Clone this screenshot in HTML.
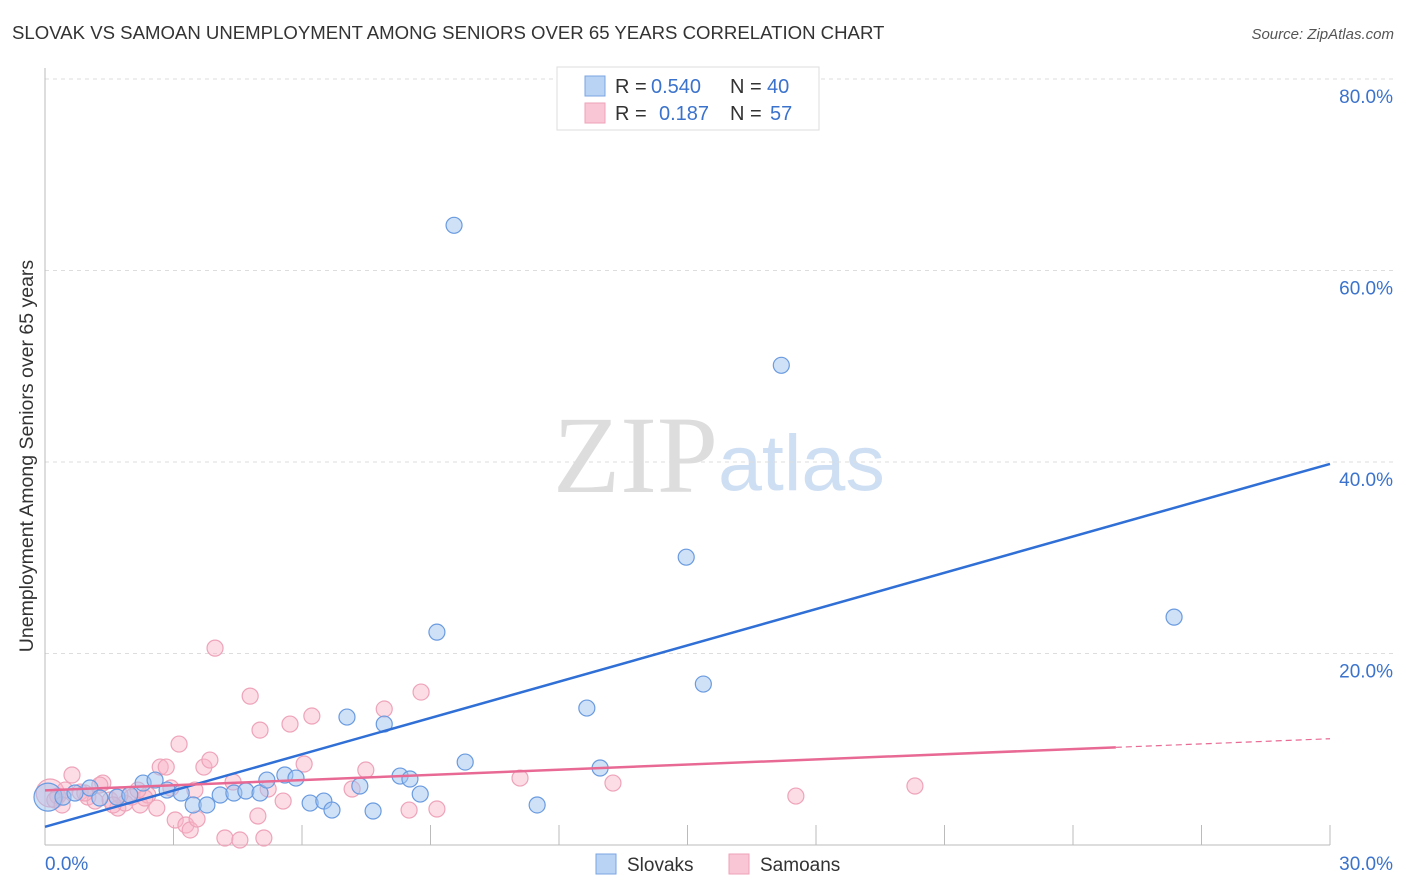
<!DOCTYPE html>
<html><head><meta charset="utf-8"><style>
body{margin:0;background:#fff;font-family:"Liberation Sans",sans-serif}
svg{display:block}
</style></head><body>
<svg id="chart" width="1406" height="892" xmlns="http://www.w3.org/2000/svg" font-family="Liberation Sans, sans-serif">
<text x="12" y="39" font-size="18.6" fill="#333">SLOVAK VS SAMOAN UNEMPLOYMENT AMONG SENIORS OVER 65 YEARS CORRELATION CHART</text>
<text x="1394" y="39" font-size="15" fill="#555" text-anchor="end" font-style="italic">Source: ZipAtlas.com</text>
<g>
<text x="553" y="492" font-size="110" fill="#ddd" font-family="Liberation Serif, serif">ZIP</text>
<text x="718" y="490" font-size="79" fill="#cfdff3">atlas</text>
</g>
<g id="grid"></g>
<g id="axes"></g>
<g id="pts"></g>
<g id="lines"></g>
<text transform="translate(33,456) rotate(-90)" font-size="19.5" fill="#333" text-anchor="middle">Unemployment Among Seniors over 65 years</text>
<g>
<rect x="557" y="67" width="262" height="63" fill="#fff" stroke="#ddd"/>
<rect x="585" y="76" width="20" height="20" fill="#b9d3f5" stroke="#7aa6e0"/>
<rect x="585" y="103" width="20" height="20" fill="#f9c6d5" stroke="#eea3b9"/>
<text x="615" y="93" font-size="20" fill="#333">R =</text>
<text x="651" y="93" font-size="20" fill="#3b73cc">0.540</text>
<text x="730" y="93" font-size="20" fill="#333">N =</text>
<text x="767" y="93" font-size="20" fill="#3b73cc">40</text>
<text x="615" y="120" font-size="20" fill="#333">R =</text>
<text x="659" y="120" font-size="20" fill="#3b73cc">0.187</text>
<text x="730" y="120" font-size="20" fill="#333">N =</text>
<text x="770" y="120" font-size="20" fill="#3b73cc">57</text>
</g>
<g>
<rect x="596" y="854" width="20" height="20" fill="#b9d3f5" stroke="#7aa6e0"/>
<text x="627" y="871" font-size="19" fill="#333">Slovaks</text>
<rect x="729" y="854" width="20" height="20" fill="#f9c6d5" stroke="#eea3b9"/>
<text x="760" y="871" font-size="19" fill="#333">Samoans</text>
</g>
</svg>
<script>
const yTicks=[20,40,60,80];
const yTickLabels=["20.0%","40.0%","60.0%","80.0%"];
const xTicks=[3,6,9,12,15,18,21,24,27,30];
const blueX=[0.07,0.42,1.05,1.68,2.29,2.57,2.85,3.18,3.46,3.78,4.09,4.41,4.69,5.02,5.18,5.60,5.86,6.19,6.51,6.70,7.05,7.35,7.66,7.92,8.29,8.52,8.76,9.15,9.55,9.81,11.49,12.65,12.96,14.97,15.37,17.19,26.36,1.98,1.28,0.70];
const blueY=[5.0,5.0,5.95,5.0,6.47,6.78,5.74,5.43,4.18,4.18,5.22,5.43,5.64,5.43,6.78,7.31,6.99,4.38,4.59,3.65,13.36,6.16,3.55,12.63,7.20,6.89,5.32,22.23,64.72,8.66,4.18,14.30,8.04,30.06,16.81,50.10,23.80,5.22,4.91,5.43];
const pinkX=[0.12,0.30,0.47,0.63,0.82,1.00,1.17,1.35,1.52,1.70,1.87,2.03,2.22,2.40,2.61,2.69,2.83,2.94,3.04,3.13,3.29,3.39,3.55,3.71,3.85,3.97,4.20,4.39,4.55,4.79,4.97,5.02,5.11,5.21,5.56,5.72,6.05,6.23,7.17,7.49,7.92,8.50,8.78,9.15,11.09,13.26,17.53,20.31,3.50,2.33,1.75,1.28,0.93,1.59,0.23,0.40,2.17];
const pinkY=[5.43,5.11,5.74,7.31,5.53,5.01,4.59,6.47,4.70,3.86,4.38,5.01,4.18,5.22,3.86,8.14,8.14,5.95,2.61,10.54,2.09,1.57,2.71,8.14,8.87,20.56,0.73,6.58,0.52,15.55,3.03,12.00,0.73,5.85,4.59,12.63,8.46,13.47,5.85,7.83,14.20,3.65,15.97,3.76,6.99,6.47,5.11,6.16,5.74,4.91,5.22,6.26,5.43,4.18,4.70,4.18,5.74];
const blueTrend=[[0,1.9],[30,39.8]];
const pinkTrend=[[0,5.7],[25,10.2],[30,11.1]];
const X=v=>45+v*(1285/30), Y=v=>845-v*(766/80);
const NS="http://www.w3.org/2000/svg";
function mk(p,t,a){const e=document.createElementNS(NS,t);for(const k in a)e.setAttribute(k,a[k]);document.getElementById(p).appendChild(e);return e;}
yTicks.forEach((t,i)=>{
 const g=mk('grid','line',{x1:45,x2:1395,y1:Y(t),y2:Y(t),stroke:'#ddd','stroke-dasharray':'4,4'});
 
 
 const l=mk('axes','text',{x:1393,y:Y(t)+24,'font-size':19,fill:'#3b73cc','text-anchor':'end'});l.textContent=yTickLabels[i];
 
 
});
const ax=mk('axes','line',{x1:45,x2:45,y1:68,y2:845,stroke:'#bbb'});


const bx=mk('axes','line',{x1:45,x2:1330,y1:845,y2:845,stroke:'#bbb'});


xTicks.forEach(t=>{const e=mk('axes','line',{x1:X(t),x2:X(t),y1:825,y2:845,stroke:'#bbb'});
 
 });
const x0=mk('axes','text',{x:45,y:870,'font-size':19,fill:'#3b73cc'});x0.textContent='0.0%';


const x1=mk('axes','text',{x:1393,y:870,'font-size':19,fill:'#3b73cc','text-anchor':'end'});x1.textContent='30.0%';


function pts(xs,ys,fill,stroke,name){xs.forEach((x,i)=>{const r=(i===0)?14:8;
 const c=mk('pts','circle',{cx:X(x),cy:Y(ys[i]),r:r,fill:fill,stroke:stroke,'stroke-width':1.2});
 
 });}
pts(pinkX,pinkY,'rgba(248,180,200,0.45)','#eea3b9','samoan-point');
pts(blueX,blueY,'rgba(160,196,240,0.5)','#6a9be0','slovak-point');
const bl=mk('lines','line',{x1:X(blueTrend[0][0]),y1:Y(blueTrend[0][1]),x2:X(blueTrend[1][0]),y2:Y(blueTrend[1][1]),stroke:'#2f6fd6','stroke-width':2.5});


const pl=mk('lines','line',{x1:X(pinkTrend[0][0]),y1:Y(pinkTrend[0][1]),x2:X(pinkTrend[1][0]),y2:Y(pinkTrend[1][1]),stroke:'#e86a94','stroke-width':2.5});


const pd=mk('lines','line',{x1:X(pinkTrend[1][0]),y1:Y(pinkTrend[1][1]),x2:X(pinkTrend[2][0]),y2:Y(pinkTrend[2][1]),stroke:'#e86a94','stroke-width':1.2,'stroke-dasharray':'6,4'});


</script>
</body></html>
